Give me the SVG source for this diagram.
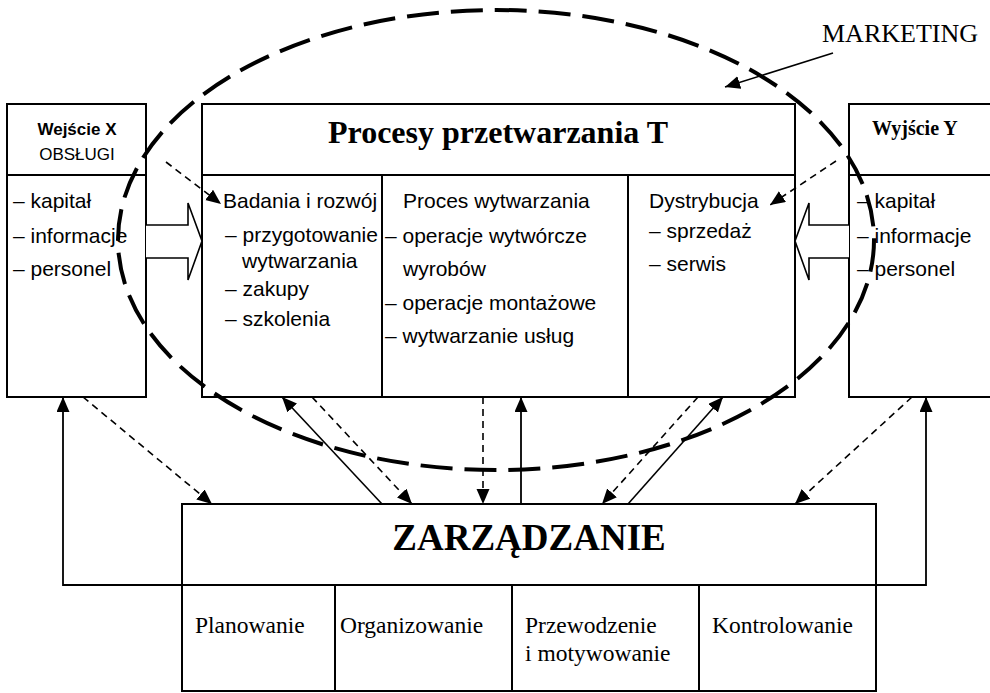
<svg xmlns="http://www.w3.org/2000/svg" width="990" height="693" viewBox="0 0 990 693">
  <style>
    .box { fill: #fff; stroke: #000; stroke-width: 2; }
    .ln { fill: none; stroke: #000; stroke-width: 2; }
    .sans { font-family: "Liberation Sans", Arial, sans-serif; fill: #000; }
    .serif { font-family: "Liberation Serif", "Times New Roman", serif; fill: #000; }
    .item { font-size: 21px; }
    .sub { font-size: 23.5px; }
    .conn { fill: none; stroke: #000; stroke-width: 1.6; }
    .solid { stroke-width: 1.8; }
    .dash { stroke-dasharray: 7 5; }
    .hollow { fill: #fff; stroke: #000; stroke-width: 1.6; }
    .marketing { fill: none; stroke: #000; stroke-width: 4; stroke-dasharray: 32 12; }
  </style>
  <defs>
    <marker id="arrow" markerUnits="userSpaceOnUse" markerWidth="16" markerHeight="14" refX="15" refY="6.5" orient="auto">
      <path d="M0,0 L15,6.5 L0,13 z" fill="#000"/>
    </marker>
  </defs>

  <!-- input -->
  <g id="wejscie">
    <rect class="box" x="7" y="104" width="139" height="293"/>
    <line class="ln" x1="7" y1="175" x2="146" y2="175"/>
    <text class="sans" x="77" y="135" font-size="17" font-weight="bold" text-anchor="middle">Wejście X</text>
    <text class="sans" x="77" y="160" font-size="17" text-anchor="middle">OBSŁUGI</text>
    <text class="sans item" x="13" y="208">– kapitał</text>
    <text class="sans item" x="13" y="243">– informacje</text>
    <text class="sans item" x="13" y="276">– personel</text>
  </g>

  <!-- transformation processes -->
  <g id="procesy">
    <rect class="box" x="202" y="104" width="593" height="293"/>
    <line class="ln" x1="202" y1="175" x2="795" y2="175"/>
    <line class="ln" x1="382" y1="175" x2="382" y2="397"/>
    <line class="ln" x1="628" y1="175" x2="628" y2="397"/>
    <text class="serif" x="498" y="143" font-size="32" font-weight="bold" text-anchor="middle">Procesy przetwarzania T</text>
    <text class="sans item" x="223" y="208">Badania i rozwój</text>
    <text class="sans item" x="225" y="242">– przygotowanie</text>
    <text class="sans item" x="242" y="268">wytwarzania</text>
    <text class="sans item" x="225" y="296">– zakupy</text>
    <text class="sans item" x="225" y="326">– szkolenia</text>
    <text class="sans item" x="403" y="208">Proces wytwarzania</text>
    <text class="sans item" x="385" y="243">– operacje wytwórcze</text>
    <text class="sans item" x="403" y="276">wyrobów</text>
    <text class="sans item" x="385" y="310">– operacje montażowe</text>
    <text class="sans item" x="385" y="343">– wytwarzanie usług</text>
    <text class="sans item" x="649" y="208">Dystrybucja</text>
    <text class="sans item" x="649" y="238">– sprzedaż</text>
    <text class="sans item" x="649" y="271">– serwis</text>
  </g>

  <!-- output -->
  <g id="wyjscie">
    <path class="ln" d="M992,104 H849 V397 H992"/>
    <line class="ln" x1="849" y1="175" x2="992" y2="175"/>
    <text class="serif" x="872" y="135" font-size="20" font-weight="bold">Wyjście Y</text>
    <text class="sans item" x="857" y="208">– kapitał</text>
    <text class="sans item" x="857" y="243">– informacje</text>
    <text class="sans item" x="857" y="276">– personel</text>
  </g>

  <!-- management -->
  <g id="zarzadzanie">
    <rect class="box" x="182" y="504" width="694" height="187"/>
    <line class="ln" x1="182" y1="585" x2="876" y2="585"/>
    <line class="ln" x1="335" y1="585" x2="335" y2="691"/>
    <line class="ln" x1="512" y1="585" x2="512" y2="691"/>
    <line class="ln" x1="699" y1="585" x2="699" y2="691"/>
    <text class="serif" x="529" y="550" font-size="37" font-weight="bold" text-anchor="middle">ZARZĄDZANIE</text>
    <text class="serif sub" x="195" y="633">Planowanie</text>
    <text class="serif sub" x="340" y="633">Organizowanie</text>
    <text class="serif sub" x="525" y="633">Przewodzenie</text>
    <text class="serif sub" x="525" y="661">i motywowanie</text>
    <text class="serif sub" x="712" y="633">Kontrolowanie</text>
  </g>

  <g id="marketing-label">
    <text class="serif" x="822" y="42" font-size="26">MARKETING</text>
  </g>

  <!-- connectors -->
  <g id="connectors">
    <!-- resource flows in and out -->
    <path class="hollow" d="M146,225 H188 V203 L202,241 L188,280 V258 H146"/>
    <path class="hollow" d="M849,225 H809 V203 L795,241 L809,280 V258 H849"/>

    <!-- marketing links -->
    <line class="conn dash" x1="166" y1="162" x2="221" y2="204" marker-end="url(#arrow)"/>
    <line class="conn dash" x1="836" y1="161" x2="770" y2="205" marker-end="url(#arrow)"/>
    <line class="conn" x1="833" y1="53" x2="725" y2="87" marker-end="url(#arrow)"/>

    <!-- management links -->
    <line class="conn dash" x1="83" y1="397" x2="212" y2="504" marker-end="url(#arrow)"/>
    <line class="conn" x1="382" y1="504" x2="282" y2="397" marker-end="url(#arrow)"/>
    <line class="conn dash" x1="312" y1="397" x2="412" y2="504" marker-end="url(#arrow)"/>
    <line class="conn dash" x1="483" y1="397" x2="483" y2="504" marker-end="url(#arrow)"/>
    <line class="conn solid" x1="521" y1="504" x2="521" y2="397" marker-end="url(#arrow)"/>
    <line class="conn dash" x1="698" y1="397" x2="602" y2="504" marker-end="url(#arrow)"/>
    <line class="conn" x1="628" y1="504" x2="723" y2="397" marker-end="url(#arrow)"/>
    <line class="conn dash" x1="912" y1="397" x2="795" y2="504" marker-end="url(#arrow)"/>

    <!-- feedback -->
    <polyline class="conn solid" points="182,585 63,585 63,397" marker-end="url(#arrow)"/>
    <polyline class="conn solid" points="876,585 926,585 926,397" marker-end="url(#arrow)"/>

    <!-- marketing boundary -->
    <ellipse class="marketing" cx="496" cy="240" rx="378" ry="230"/>
  </g>
</svg>
